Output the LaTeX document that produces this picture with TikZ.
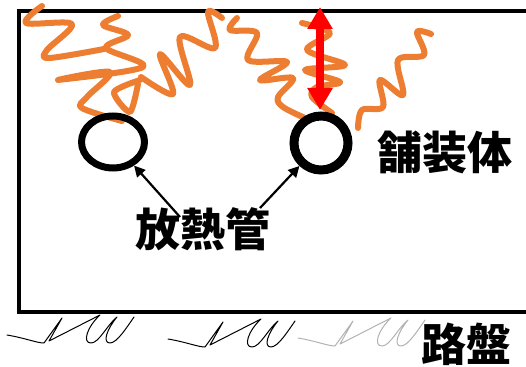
\documentclass[tikz,border=0pt]{standalone}
\usepackage{fontspec}
\newfontfamily\jp{Noto Sans CJK JP}
\usetikzlibrary{arrows.meta,shapes.geometric}
\definecolor{heat}{RGB}{237,125,49}
\tikzset{
  frame/.style={line width=4pt},
  pipe/.style={draw, ellipse, line width=#1, inner sep=0pt},
  wave/.style={draw=heat, line width=6pt, line cap=round, line join=round},
  label/.style={font=\jp\bfseries\fontsize{45}{45}\selectfont, inner sep=0pt},
  pointer/.style={line width=2.2pt, -{Triangle[length=11pt,width=11pt]}},
  gap/.style={draw=red, line width=8pt, {Triangle[length=22pt,width=24pt]}-{Triangle[length=22pt,width=24pt]}},
  groundmark/.pic={
    \draw[line width=1pt, line cap=round, line join=round]
      (0,0) .. controls (18,3) and (30,8) .. (37,8) -- (55,-17) -- (42,6)
      -- (93,-20) .. controls (80,-8) and (75,8) .. (84,8)
      .. controls (92,8) and (100,-10) .. (110,-18)
      .. controls (100,-6) and (95,8) .. (103,8)
      .. controls (110,8) and (120,-8) .. (127,-18);
  }
}
\begin{document}
\begin{tikzpicture}[x=1pt,y=-1pt]
\useasboundingbox (0,0) rectangle (526,366);

% pavement body (open to the right)
\draw[frame] (530,11.3) -- (18.5,11.3) -- (18.5,312) -- (530,312);

% heat waves rising from the pipes
\draw[wave] plot[smooth, tension=0.55] coordinates {(42,6) (26,23) (72,24) (47,50) (49,58) (104,49)};
\draw[wave] plot[smooth, tension=0.55] coordinates {(118,16) (103,25) (128,35) (106,48) (143,67) (58,80) (110,72) (87,97) (82,108) (122,121)};
\draw[wave] plot[smooth, tension=0.45] coordinates {(140,80) (114,92) (130,112) (138,84)};
\draw[wave] plot[smooth, tension=0.55] coordinates {(141,77) (173,94) (160,54) (190,85) (180,37) (215,48) (208,12) (222,18)};
\draw[wave] plot[smooth, tension=0.55] coordinates {(237,18) (230,30) (257,33) (248,60) (287,62) (260,80) (293,78) (278,97) (283,107) (305,118)};
\draw[wave] plot[smooth, tension=0.55] coordinates {(302,23) (330,33) (307,50) (345,65) (305,70) (340,82) (317,87) (312,97) (332,113)};
\draw[wave] plot[smooth, tension=0.55] coordinates {(358,128) (362,110) (383,107) (380,80) (403,95) (398,60) (424,55) (417,32) (431,34)};

% heat pipes
\node[pipe=7pt, minimum width=63pt, minimum height=52pt] (pipeL) at (113,142) {};
\node[pipe=9pt, minimum width=54pt, minimum height=54pt] (pipeR) at (321,143) {};

% cover depth
\coordinate (surf) at (320,7);
\coordinate (crown) at (320,110);
\draw[gap] (surf) -- (crown);

% labels
\node[label] (lblPipe) at (203,229) {放熱管};
\node[label] (lblBody) at (445,152) {舗装体};
\node[label] (lblBase) at (466,344) {路盤};

\coordinate (fromL) at (180,217);
\coordinate (fromR) at (260,208);
\draw[pointer] (fromL) -- (pipeL);
\draw[pointer] (fromR) -- (pipeR);

% subgrade marks
\pic at (7,335) {groundmark};
\pic at (168,339) {groundmark};
\begin{scope}[gray!60]
\pic[color=gray!60] at (298,338) {groundmark};
\end{scope}
\end{tikzpicture}
\end{document}
